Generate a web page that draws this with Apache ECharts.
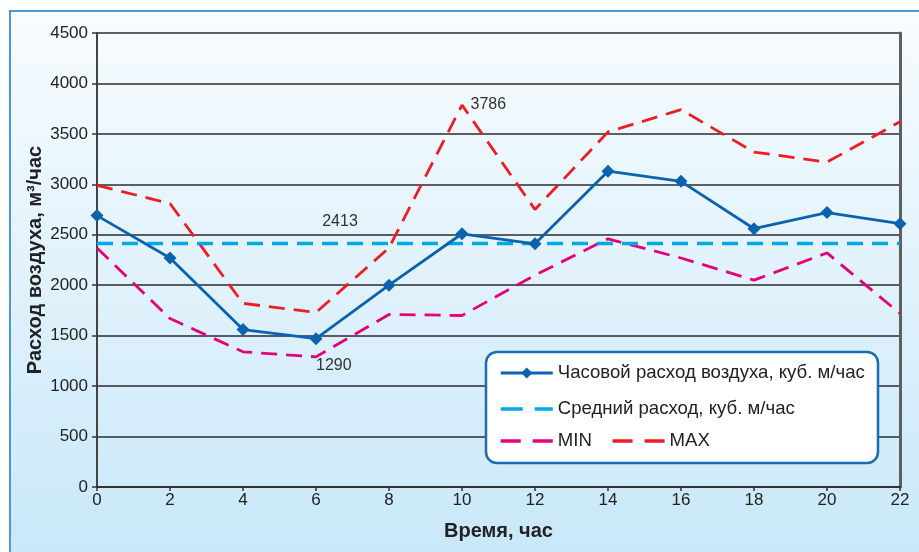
<!DOCTYPE html>
<html>
<head>
<meta charset="utf-8">
<title>Расход воздуха</title>
<script src="https://cdn.jsdelivr.net/npm/echarts@6/dist/echarts.min.js"></script>
<style>
  html, body { margin: 0; padding: 0; background: #ffffff; }
  #chart { width: 919px; height: 552px; }
</style>
</head>
<body>
<div id="chart"></div>
<script>
// Hours of the day (x axis)
const hours = [0, 2, 4, 6, 8, 10, 12, 14, 16, 18, 20, 22];
// Hourly air consumption, m3/h
const flow = [2690, 2270, 1560, 1470, 2000, 2510, 2410, 3130, 3030, 2560, 2720, 2610];
// Upper envelope (MAX)
const maxFlow = [2990, 2810, 1820, 1730, 2370, 3786, 2750, 3520, 3740, 3320, 3220, 3620];
// Lower envelope (MIN)
const minFlow = [2370, 1670, 1340, 1290, 1710, 1700, 2100, 2460, 2270, 2050, 2320, 1720];

// Series names
const names = {
  flow: 'Часовой расход воздуха, куб. м/час',
  avg: 'Средний расход, куб. м/час',
  min: 'MIN',
  max: 'MAX'
};

// Average of the hourly values
const avgValue = Math.round(flow.reduce((a, b) => a + b, 0) / flow.length);

const pair = (ys) => hours.map((h, i) => [h, ys[i]]);

const FONT = '"Liberation Sans", Arial, Helvetica, sans-serif';
const C_BLUE = '#0b63b0';
const C_CYAN = '#00a8e6';
const C_MAGENTA = '#e5007d';
const C_RED = '#ee1d23';
const NO_FILL = { color: 'rgba(0,0,0,0)', borderColor: 'rgba(0,0,0,0)', borderWidth: 0 };

const chart = echarts.init(document.getElementById('chart'), null, { renderer: 'canvas' });

const legendText = { fontSize: 18.6, lineHeight: 20, color: '#222', fontFamily: FONT };

chart.setOption({
  animation: false,
  textStyle: { fontFamily: FONT },
  graphic: [
    {
      type: 'rect',
      z: -10,
      silent: true,
      shape: { x: 10, y: 11, width: 930, height: 560 },
      style: {
        fill: new echarts.graphic.LinearGradient(0, 0, 0, 1, [
          { offset: 0, color: '#f8fcff' },
          { offset: 1, color: '#c7e7f8' }
        ]),
        stroke: '#4b98d3',
        lineWidth: 2
      }
    },
    {
      type: 'rect',
      z: 3,
      silent: true,
      shape: { x: 486, y: 352, width: 392, height: 111, r: 11 },
      style: { fill: '#ffffff', stroke: '#1a6cb5', lineWidth: 2.5 }
    }
  ],
  grid: {
    left: 97, right: 19, top: 33, bottom: 65,
    show: false
  },
  legend: [
    {
      z: 5,
      orient: 'vertical',
      left: 494, top: 358,
      itemWidth: 52, itemHeight: 14, itemGap: 16,
      textStyle: legendText,
      data: [
        { name: names.flow, lineStyle: { width: 2.8 } },
        { name: names.avg, lineStyle: { type: [22, 12], width: 3.5 }, itemStyle: NO_FILL }
      ]
    },
    {
      z: 5,
      orient: 'horizontal',
      left: 494, top: 426,
      itemWidth: 52, itemHeight: 14, itemGap: 19,
      lineStyle: { type: [20, 12], width: 3.5 },
      textStyle: legendText,
      data: [
        { name: names.min, itemStyle: NO_FILL },
        { name: names.max, itemStyle: NO_FILL }
      ]
    }
  ],
  xAxis: {
    type: 'value',
    min: 0, max: 22, interval: 2,
    name: 'Время, час',
    nameLocation: 'middle',
    nameGap: 34,
    nameTextStyle: { fontSize: 20, fontWeight: 'bold', color: '#222', fontFamily: FONT },
    axisLine: { show: true, onZero: false, lineStyle: { color: '#333', width: 2 } },
    axisTick: { show: true, length: 4, lineStyle: { color: '#333', width: 1.5 } },
    axisLabel: { fontSize: 17, color: '#222', margin: 5, fontFamily: FONT },
    splitLine: { show: false }
  },
  yAxis: [
    {
      type: 'value',
      min: 0, max: 4500, interval: 500,
      name: 'Расход воздуха, м³/час',
      nameLocation: 'middle',
      nameMoveOverlap: false,
      nameGap: 52,
      nameTextStyle: { fontSize: 20, fontWeight: 'bold', color: '#222', fontFamily: FONT },
      axisLine: { show: true, lineStyle: { color: '#444', width: 2 } },
      axisTick: { show: true, length: 5, lineStyle: { color: '#333', width: 1.5 } },
      axisLabel: { fontSize: 17, color: '#222', margin: 9, fontFamily: FONT, formatter: (v) => String(v) },
      splitLine: { show: true, lineStyle: { color: '#2b2b2b', width: 1.5 } }
    },
    {
      type: 'value',
      position: 'right',
      min: 0, max: 4500,
      axisLine: { show: true, lineStyle: { color: '#5f5f5f', width: 3 } },
      axisTick: { show: false },
      axisLabel: { show: false },
      splitLine: { show: false }
    }
  ],
  series: [
    {
      name: names.min,
      type: 'line',
      data: pair(minFlow),
      symbol: 'none',
      color: C_MAGENTA,
      lineStyle: { color: C_MAGENTA, width: 2.8, type: [16, 9] },
      markPoint: {
        symbol: 'circle', symbolSize: 1,
        itemStyle: { color: 'rgba(0,0,0,0)' },
        label: {
          show: true, position: 'bottom', distance: 0, align: 'left',
          fontSize: 16, color: '#333', fontFamily: FONT, formatter: '{c}'
        },
        data: [{ type: 'min', name: 'min' }]
      }
    },
    {
      name: names.max,
      type: 'line',
      data: pair(maxFlow),
      symbol: 'none',
      color: C_RED,
      lineStyle: { color: C_RED, width: 2.8, type: [16, 9] },
      markPoint: {
        symbol: 'circle', symbolSize: 1,
        itemStyle: { color: 'rgba(0,0,0,0)' },
        label: {
          show: true, position: 'right', distance: 8,
          fontSize: 16, color: '#333', fontFamily: FONT, formatter: '{c}'
        },
        data: [{ type: 'max', name: 'max' }]
      }
    },
    {
      name: names.avg,
      type: 'line',
      data: hours.map(h => [h, avgValue]),
      symbol: 'none',
      color: C_CYAN,
      lineStyle: { color: C_CYAN, width: 3.5, type: [16, 9] },
      markPoint: {
        symbol: 'circle', symbolSize: 1,
        itemStyle: { color: 'rgba(0,0,0,0)' },
        label: {
          show: true, position: 'top', distance: 0, offset: [24, -13],
          fontSize: 16, color: '#333', fontFamily: FONT, formatter: '{c}'
        },
        data: [{ coord: [hours[3], avgValue], value: avgValue }]
      }
    },
    {
      name: names.flow,
      type: 'line',
      data: pair(flow),
      symbol: 'diamond',
      symbolSize: 13,
      color: C_BLUE,
      itemStyle: { color: C_BLUE },
      lineStyle: { color: C_BLUE, width: 2.8 }
    }
  ]
});
</script>
</body>
</html>
